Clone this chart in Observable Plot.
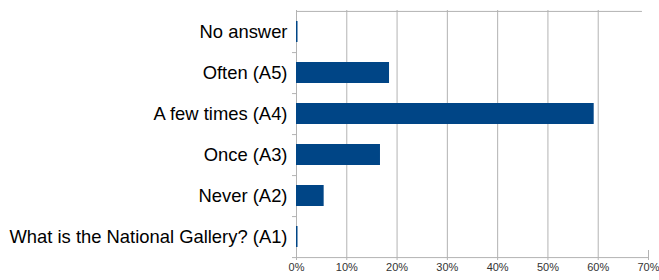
<!DOCTYPE html>
<html>
<head>
<meta charset="utf-8">
<script src="https://cdn.jsdelivr.net/npm/d3@7"></script>
<script src="https://cdn.jsdelivr.net/npm/@observablehq/plot@0.6"></script>
<style>
  html, body { margin: 0; padding: 0; background: #fff; }
  svg { display: block; }
</style>
</head>
<body>
<div id="chart"></div>
<script>
const categories = ["No answer", "Often (A5)", "A few times (A4)", "Once (A3)", "Never (A2)", "What is the National Gallery? (A1)"];
const values = [0.3, 18.5, 59.2, 16.7, 5.5, 0.3];
const xTicks = [0, 10, 20, 30, 40, 50, 60, 70];
const gridTicks = [10, 20, 30, 40, 50, 60];
const topLineEnd = 68.8;

const data = categories.map((c, i) => ({category: c, value: values[i]}));

const width = 659, height = 280;
const marginTop = 10, marginBottom = 23;
const step = (height - marginTop - marginBottom) / categories.length;

const chart = Plot.plot({
  width, height,
  marginLeft: 296, marginRight: 11, marginTop, marginBottom,
  style: {fontFamily: "'Liberation Sans', Arial, sans-serif", background: "#fff"},
  x: {domain: [0, 70], ticks: xTicks},
  y: {domain: categories, paddingInner: 0.5, paddingOuter: 0.25},
  marks: [
    Plot.ruleX(gridTicks, {stroke: "#b3b3b3", strokeWidth: 1, strokeOpacity: 1}),
    Plot.ruleY([categories[0]], {x1: 0, x2: topLineEnd, dy: -step / 2, stroke: "#b3b3b3"}),
    Plot.ruleX([0], {stroke: "#b3b3b3"}),
    Plot.ruleY([categories[categories.length - 1]], {x1: 0, x2: 70, dy: step / 2, stroke: "#b3b3b3"}),
    Plot.axisX({ticks: xTicks.slice(0, -1), tickSize: 3, tickPadding: 3, tickFormat: d => d + "%", stroke: "#b3b3b3", strokeOpacity: 1, fill: "#333", fontSize: 11, label: null}),
    Plot.axisX({ticks: [70], tickSize: 10, dy: -7, tickPadding: 3, tickFormat: d => d + "%", stroke: "#b3b3b3", strokeOpacity: 1, fill: "#333", fontSize: 11, label: null}),
    Plot.axisY({tickSize: 4, dy: step / 2, tickFormat: () => "", stroke: "#b3b3b3", strokeOpacity: 1, label: null}),
    Plot.axisY({tickSize: 0, tickPadding: 9, fill: "#000", fontSize: 18.4, label: null}),
    Plot.barX(data, {y: "category", x: "value", fill: "#004586"})
  ]
});
document.getElementById("chart").appendChild(chart);
</script>
</body>
</html>
